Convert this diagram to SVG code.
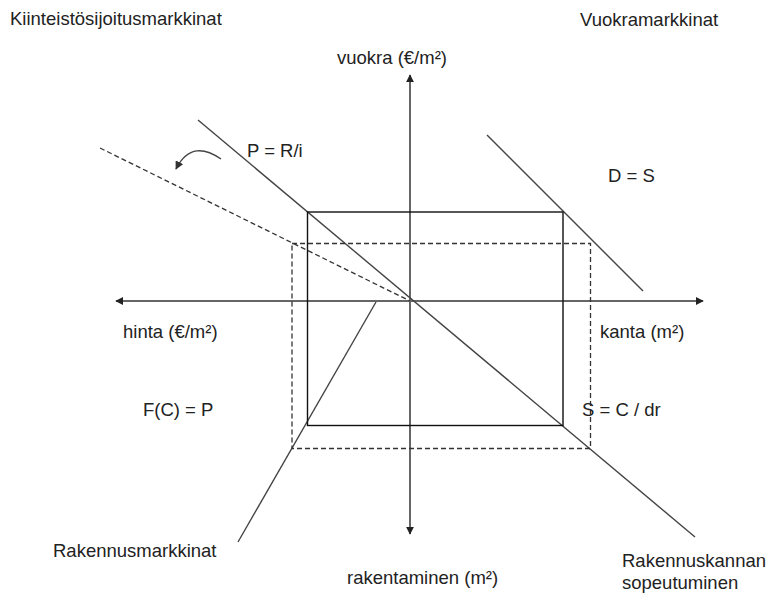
<svg xmlns="http://www.w3.org/2000/svg" width="769" height="595" viewBox="0 0 769 595">
<style>
text{font-family:"Liberation Sans",Arial,sans-serif;font-size:18.5px;fill:#222}
.ax{stroke:#666;stroke-width:2;fill:none}
.ln{stroke:#444;stroke-width:1.4;fill:none}
.rect{stroke:#111;stroke-width:1.4;fill:none}
.dash{stroke:#333;stroke-width:1.3;fill:none;stroke-dasharray:5 3}
</style>
<defs>
<marker id="ah" viewBox="0 0 10 10" refX="9" refY="5" markerWidth="4" markerHeight="4" orient="auto-start-reverse" markerUnits="strokeWidth">
<path d="M0,0 L10,5 L0,10 z" fill="#222"/>
</marker>
<marker id="ah2" viewBox="0 0 10 10" refX="9" refY="5" markerWidth="6" markerHeight="6" orient="auto" markerUnits="strokeWidth">
<path d="M0,0 L10,5 L0,10 z" fill="#333"/>
</marker>
</defs>
<rect width="769" height="595" fill="#fff"/>
<g id="connectors">
<line class="ax" x1="410" y1="75" x2="410" y2="534" marker-start="url(#ah)" marker-end="url(#ah)"/>
<line class="ax" x1="116" y1="301" x2="703" y2="301" marker-start="url(#ah)" marker-end="url(#ah)"/>
<line class="ln" x1="198" y1="120" x2="695" y2="537"/>
<line class="ln" x1="487" y1="135" x2="643" y2="291"/>
<line class="ln" x1="376" y1="302" x2="238" y2="542"/>
<line class="dash" x1="100" y1="148" x2="410" y2="301"/>
<path class="ln" d="M221,159 C205,148 188,145 176,169" marker-end="url(#ah2)"/>
</g>
<g id="solid-rect"><rect class="rect" x="307.5" y="212" width="255.5" height="213.5"/></g>
<g id="dashed-rect"><rect class="dash" x="292" y="243.5" width="298.5" height="205"/></g>
<g id="labels">
<text x="10" y="25">Kiinteistösijoitusmarkkinat</text>
<text x="580" y="26">Vuokramarkkinat</text>
<text x="337" y="64">vuokra (€/m²)</text>
<text x="247" y="157">P = R/i</text>
<text x="608" y="182">D = S</text>
<text x="123" y="338">hinta (€/m²)</text>
<text x="600" y="338">kanta (m²)</text>
<text x="143" y="416">F(C) = P</text>
<text x="582" y="416">S = C / dr</text>
<text x="53" y="557">Rakennusmarkkinat</text>
<text x="347" y="584">rakentaminen (m²)</text>
<text x="622" y="567">Rakennuskannan</text>
<text x="622" y="589">sopeutuminen</text>
</g>
</svg>
